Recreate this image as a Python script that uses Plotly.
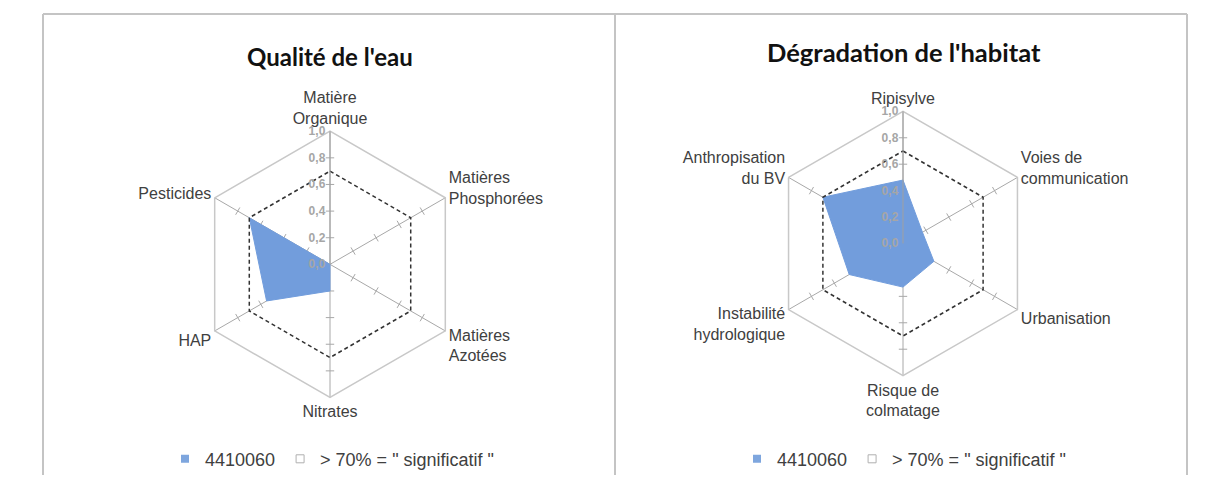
import plotly.graph_objects as go

# the page body adds an 8px margin, so layout pixels are measured from there
OFF = 8
W, H = 1205 - OFF, 478 - OFF

# --- data -------------------------------------------------------------
eau_axes = ['Matière<br>Organique', 'Matières<br>Phosphorées', 'Matières<br>Azotées',
            'Nitrates', 'HAP', 'Pesticides']
eau_values = [0.0, 0.0, 0.0, 0.2, 0.55, 0.7]

habitat_axes = ['Ripisylve', 'Voies de<br>communication', 'Urbanisation',
                'Risque de<br>colmatage', 'Instabilité<br>hydrologique', 'Anthropisation<br>du BV']
habitat_values = [0.48, 0.17, 0.27, 0.33, 0.47, 0.7]

seuil = 0.7
station = '4410060'
seuil_label = '> 70% = " significatif "'
tick_steps = [0.2, 0.4, 0.6, 0.8]

fill_color = 'rgb(114,157,220)'
text_color = '#404040'


def px_x(v):
    return (v - OFF) / W


def px_y(v):
    return 1 - (v - OFF) / H


def domain(cx, cy, r):
    return dict(x=[px_x(cx - r), px_x(cx + r)], y=[px_y(cy + r), px_y(cy - r)])


def add_radar(fig, axes, values, polar, legend):
    n = len(axes)
    # small tick marks across every spoke
    for i, a in enumerate(axes):
        fig.add_trace(go.Scatterpolar(
            r=tick_steps, theta=[a] * len(tick_steps), mode='markers',
            marker=dict(symbol='line-ew', size=6, angle=360 / n * i,
                        line=dict(color='#a8a8a8', width=1)),
            subplot=polar, showlegend=False, hoverinfo='skip'))
    fig.add_trace(go.Scatterpolar(
        r=values + values[:1], theta=axes + axes[:1], mode='lines', fill='toself',
        fillcolor=fill_color, line=dict(color=fill_color, width=1),
        name=station, subplot=polar, showlegend=False, legendgroup=polar + 'a'))
    fig.add_trace(go.Scatterpolar(
        r=[seuil] * (n + 1), theta=axes + axes[:1], mode='lines',
        line=dict(color='#333333', width=1.5, dash='4px,3px'),
        subplot=polar, showlegend=False, legendgroup=polar + 'b'))
    # legend entries (small square / dotted box as in the original)
    fig.add_trace(go.Scatterpolar(
        r=[None], theta=[axes[0]], mode='markers', name=station, subplot=polar,
        legend=legend, legendgroup=polar + 'a',
        marker=dict(symbol='square', size=8, color='rgb(126,166,222)')))
    fig.add_trace(go.Scatterpolar(
        r=[None], theta=[axes[0]], mode='markers', name=seuil_label, subplot=polar,
        legend=legend, legendgroup=polar + 'b',
        marker=dict(symbol='square-open', size=8, color='#b0b0b0', line=dict(width=1))))


fig = go.Figure()
add_radar(fig, eau_axes, eau_values, 'polar', 'legend')
add_radar(fig, habitat_axes, habitat_values, 'polar2', 'legend2')

polar_common = dict(
    gridshape='linear', bgcolor='white',
    radialaxis=dict(range=[0, 1], dtick=0.2, tickformat='.1f', showgrid=False,
                    showline=True, linecolor='#a0a0a0', linewidth=1, angle=90, tickangle=90,
                    side='counterclockwise', ticks='',
                    tickfont=dict(family='Liberation Sans', size=12, color='#a6a6a6',
                                  weight='bold')),
    angularaxis=dict(direction='clockwise', rotation=90, showline=True,
                     linecolor='#c8c8c8', linewidth=1.5, gridcolor='#a8a8a8',
                     ticks='', tickfont=dict(family='Liberation Sans', size=16, color=text_color)),
)

legend_style = dict(orientation='h', yanchor='middle', xanchor='left', y=px_y(462),
                    font=dict(family='Liberation Sans', size=18, color=text_color),
                    itemwidth=30, bgcolor='rgba(0,0,0,0)')

fig.update_layout(
    width=W, height=H, margin=dict(l=0, r=0, t=0, b=0),
    paper_bgcolor='white', plot_bgcolor='white', separators=', ',
    polar=dict(domain=domain(330, 266, 134), **polar_common),
    polar2=dict(domain=domain(903, 245, 133), **polar_common),
    legend=dict(x=px_x(165), **legend_style),
    legend2=dict(x=px_x(737), **legend_style),
    showlegend=True,
)

# titles
for txt, cx, cy, size in [("Qualité de l'eau", 330, 57, 24),
                          ("Dégradation de l'habitat", 904, 52, 25.5)]:
    fig.add_annotation(text=f'<b>{txt}</b>', x=px_x(cx), y=px_y(cy), xref='paper', yref='paper',
                       xanchor='center', yanchor='middle', showarrow=False,
                       font=dict(family='Lato', size=size, color='#111111'))

# panel frame
fig.add_shape(type='line', xref='paper', yref='paper', x0=px_x(43), x1=px_x(1187),
              y0=px_y(14), y1=px_y(14), line=dict(color='#c4c4c4', width=2))
for xv in [43, 615, 1187]:
    fig.add_shape(type='line', xref='paper', yref='paper', x0=px_x(xv), x1=px_x(xv),
                  y0=0, y1=px_y(14), line=dict(color='#c4c4c4', width=2))

fig.write_html("out.html")
